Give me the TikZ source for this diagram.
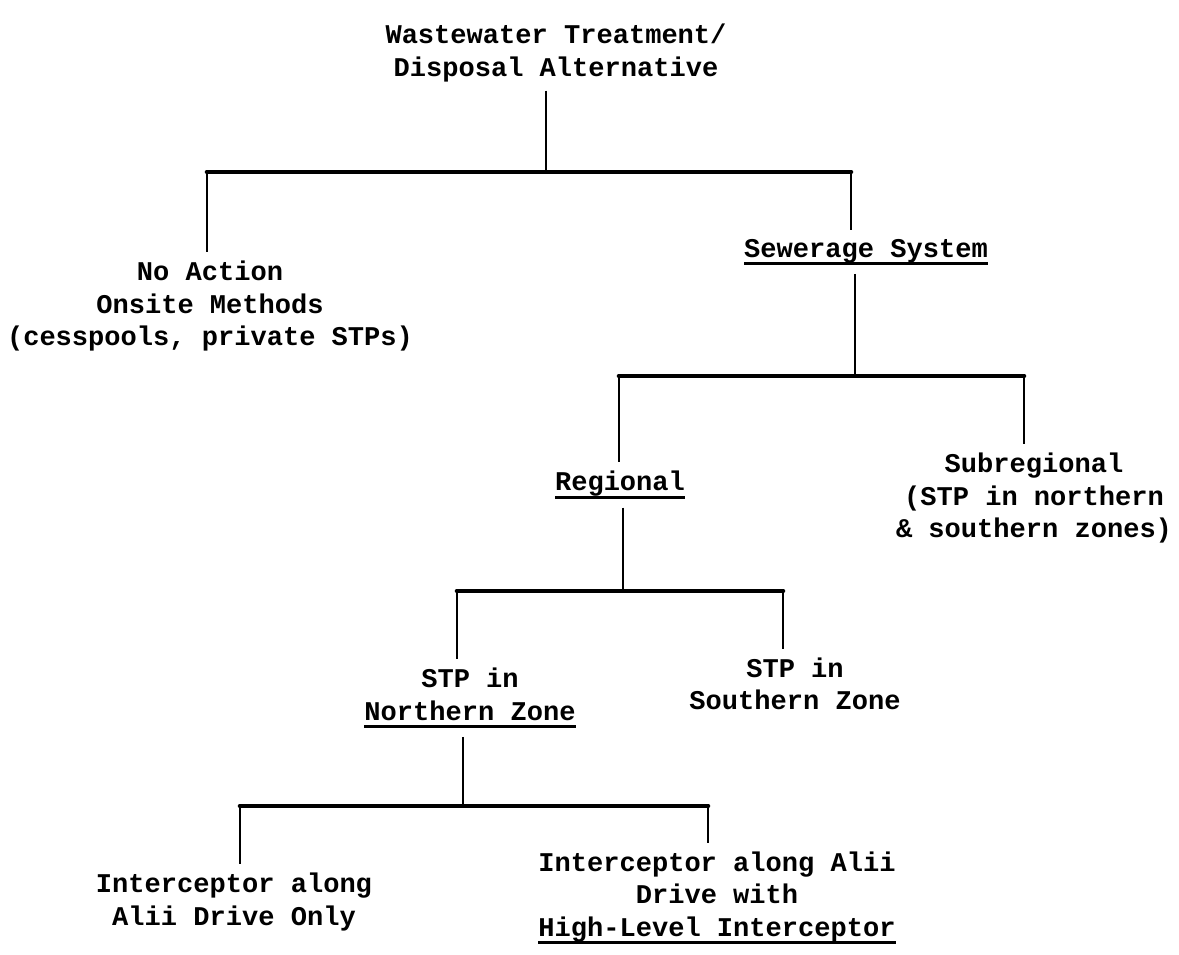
\documentclass[tikz,border=0pt]{standalone}
\usepackage{fontspec}
\newfontfamily\tw{Liberation Mono}
\usetikzlibrary{positioning}
\newcommand{\undl}[1]{\leavevmode\setbox0=\hbox{#1}\rlap{\raisebox{-4.5pt}{\rule{\wd0}{1.8pt}}}\box0}
\tikzset{
  lbl/.style={align=center, font=\tw\bfseries\fontsize{15.4}{18.5}\selectfont, inner sep=0pt, outer sep=5pt},
  stem/.style={line width=1.4pt},
  bar/.style={line width=2.6pt, line cap=round},
}
\begin{document}
\begin{tikzpicture}[x=0.02cm, y=-0.02cm]
\useasboundingbox (0,0) rectangle (1179,954);

\node[lbl] (root) at (556,53) {Wastewater Treatment/\\Disposal Alternative};
\node[lbl] (noact) at (210,306) {No Action\\Onsite Methods\\(cesspools, private STPs)};
\node[lbl] (sew) at (866,252) {\undl{Sewerage System}};
\node[lbl] (reg) at (620,485) {\undl{Regional}};
\node[lbl] (subreg) at (1034,498) {Subregional\\(STP in northern\\\& southern zones)};
\node[lbl] (stpn) at (470,698) {STP in\\\undl{Northern Zone}};
\node[lbl] (stps) at (795,684) {STP in\\Southern Zone};
\node[lbl] (intA) at (234,902) {Interceptor along\\Alii Drive Only};
\node[lbl] (intB) at (717,898) {Interceptor along Alii\\Drive with\\\undl{High-Level Interceptor}};

\coordinate (j1) at (546,172);
\coordinate (b1l) at (207,172);
\coordinate (b1r) at (851,172);
\draw[stem] (root.south -| j1) -- (j1);
\draw[bar] (b1l) -- (b1r);
\draw[stem] (b1l) -- (noact.north -| b1l);
\draw[stem] (b1r) -- (sew.north -| b1r);

\coordinate (j2) at (855,376);
\coordinate (b2l) at (619,376);
\coordinate (b2r) at (1024,376);
\draw[stem] (sew.south -| j2) -- (j2);
\draw[bar] (b2l) -- (b2r);
\draw[stem] (b2l) -- (reg.north -| b2l);
\draw[stem] (b2r) -- (subreg.north -| b2r);

\coordinate (j3) at (623,591);
\coordinate (b3l) at (457,591);
\coordinate (b3r) at (783,591);
\draw[stem] (reg.south -| j3) -- (j3);
\draw[bar] (b3l) -- (b3r);
\draw[stem] (b3l) -- (stpn.north -| b3l);
\draw[stem] (b3r) -- (stps.north -| b3r);

\coordinate (j4) at (463,806);
\coordinate (b4l) at (240,806);
\coordinate (b4r) at (708,806);
\draw[stem] (stpn.south -| j4) -- (j4);
\draw[bar] (b4l) -- (b4r);
\draw[stem] (b4l) -- (intA.north -| b4l);
\draw[stem] (b4r) -- (intB.north -| b4r);

\end{tikzpicture}
\end{document}
